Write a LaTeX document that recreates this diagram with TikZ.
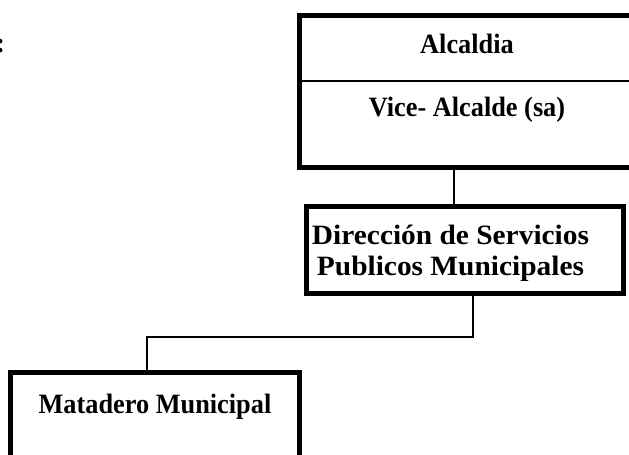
\documentclass[tikz,border=0pt]{standalone}
\usepackage{fontspec}
\setmainfont{Liberation Serif}[FakeStretch=0.94]
\newfontfamily\widefont{Liberation Serif}[FakeStretch=1.05]
\usetikzlibrary{calc}

\begin{document}
\begin{tikzpicture}[x=1pt,y=-1pt,
  box/.style={draw,line width=5.5pt,inner sep=0pt},
  txt/.style={font=\fontsize{28}{31}\selectfont\bfseries,align=center,inner sep=0pt},
  link/.style={line width=2pt}]
  \clip (0,0) rectangle (629,455);
  % boxes
  \node[box,minimum width=335pt,minimum height=152pt] (alcaldia) at (467,91.5) {};
  \node[box,minimum width=317pt,minimum height=87pt] (direccion) at (465,250) {};
  \node[box,minimum width=289pt,minimum height=120pt] (matadero) at (155,432.5) {};
  \draw[link] (alcaldia.west |- 0,80.5) -- (alcaldia.east |- 0,80.5);
  % texts
  \node[txt,anchor=base] (colon) at (0.5,52.5) {:};
  \node[txt,anchor=base] (alc) at (467,53) {Alcaldia};
  \node[txt,anchor=base] (vice) at (467,116.5) {Vice- Alcalde (sa)};
  \node[txt,font=\fontsize{28}{31}\selectfont\widefont\bfseries] (dirtxt) at (450.5,253) {Dirección de Servicios\\Publicos Municipales};
  \node[txt,anchor=base] (mattxt) at (155,413) {Matadero Municipal};
  % links
  \coordinate (j1) at (454,0);
  \coordinate (j2) at (473,0);
  \coordinate (j3) at (146.5,337);
  \draw[link] (alcaldia.south -| j1) -- (direccion.north -| j1);
  \draw[link] (direccion.south -| j2) |- (j3) -- (matadero.north -| j3);
\end{tikzpicture}
\end{document}
